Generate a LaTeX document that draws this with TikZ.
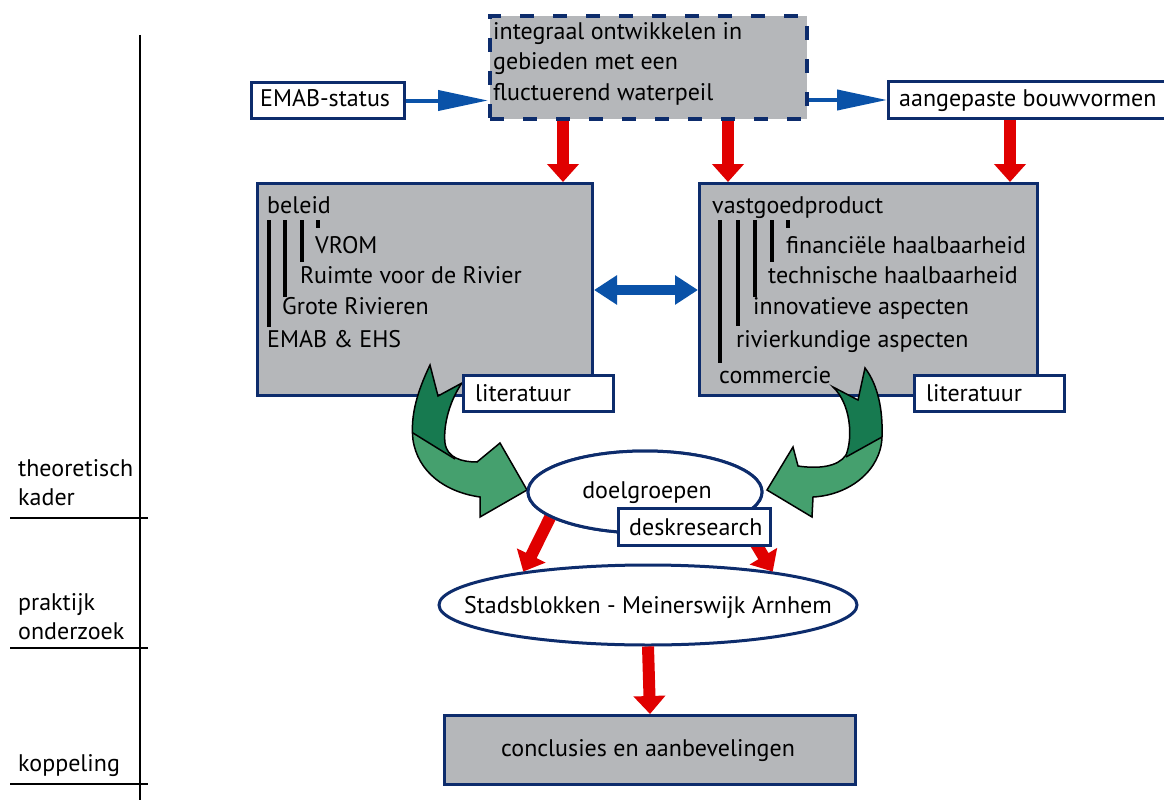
\documentclass[tikz,border=0pt]{standalone}
\usepackage{fontspec}
\setmainfont{PT Sans}
\usetikzlibrary{arrows.meta,shapes.geometric}
\definecolor{navy}{HTML}{0D2C6C}
\definecolor{boxgray}{HTML}{B5B7BA}
\definecolor{arrblue}{HTML}{0A52A8}
\definecolor{arrred}{HTML}{E00000}
\definecolor{gdark}{HTML}{177A50}
\definecolor{glight}{HTML}{45A06E}
\newcommand{\mfs}{\fontsize{24}{30}\selectfont}
\newcommand{\greenleftpath}{(430,365) -- (438,396) -- (462,383) .. controls (450,400) and (443,425) .. (445,443) .. controls (447,458) and (462,462) .. (477,462) -- (500,443) -- (527,490) -- (480,517) -- (480,497) .. controls (445,492) and (418,472) .. (413,440) .. controls (410,415) and (418,390) .. (430,365) -- cycle}
\newcommand{\greenrightpath}{(833,387) -- (858,400) -- (865,368) .. controls (878,385) and (883,410) .. (882,437) .. controls (881,470) and (850,495) .. (813,497) -- (812,517) -- (767,490) -- (793,447) -- (798,466) .. controls (818,469) and (838,467) .. (846,455) .. controls (853,438) and (851,404) .. (833,387) -- cycle}
\begin{document}
\begin{tikzpicture}[x=1pt,y=-1pt,
  graybox/.style={draw=navy, line width=3pt, fill=boxgray, inner sep=0pt, anchor=north west},
  whitebox/.style={draw=navy, line width=3pt, fill=white, inner sep=0pt, anchor=north west},
  ellbox/.style={ellipse, draw=navy, line width=3pt, fill=white, inner sep=0pt},
  txt/.style={font=\mfs, inner sep=0pt, anchor=base west, text=black},
  ctxt/.style={font=\mfs, inner sep=0pt, anchor=base, text=black},
  barline/.style={line width=4pt, black},
  redarr/.style={arrred, line width=12pt, -{Triangle[length=18pt,width=31pt]}},
  bluearr/.style={arrblue, line width=4pt, -{Triangle[length=50pt,width=20pt]}},
  dblarr/.style={arrblue, line width=10pt, {Triangle[length=23pt,width=28pt]}-{Triangle[length=23pt,width=28pt]}},
  rulel/.style={black, line width=2pt},
  greenout/.style={draw=black, line width=1.5pt, line join=miter}
]
\clip (0,0) rectangle (1164,800);
\fill[white] (0,0) rectangle (1164,800);

% left rules and phase labels
\draw[rulel] (140,35) -- (140,800);
\draw[rulel] (10,518) -- (148,518);
\draw[rulel] (10,648) -- (148,648);
\draw[rulel] (10,784) -- (148,784);
\node[txt] (l1) at (18,476) {theoretisch};
\node[txt] (l2) at (18,505) {kader};
\node[txt] (l3) at (18,610) {praktijk};
\node[txt] (l4) at (18,639) {onderzoek};
\node[txt] (l5) at (18,771) {koppeling};

% top row
\node[graybox, line width=4pt, dash pattern=on 14pt off 19pt, minimum width=317pt, minimum height=103pt] (top) at (488,14) {};
\node[txt] (t1) at (493,40) {integraal ontwikkelen in};
\node[txt] (t2) at (493,70) {gebieden met een};
\node[txt] (t3) at (493,100) {fluctuerend waterpeil};

\node[whitebox, minimum width=153pt, minimum height=36pt] (emab) at (250,81) {};
\node[txt] (emabt) at (260,106) {EMAB-status};
\node[whitebox, minimum width=300pt, minimum height=37pt] (aang) at (887,80) {};
\node[txt] (aangt) at (899,106) {aangepaste bouwvormen};

\draw[bluearr] (emab.east) -- (top.west |- emab.east);
\draw[bluearr] (top.east |- aang.west) -- (aang.west);

% middle boxes
\node[graybox, minimum width=335pt, minimum height=212pt] (lbox) at (256,182) {};
\node[graybox, minimum width=338pt, minimum height=212pt] (rbox) at (698,182) {};

\coordinate (r1) at (563,0);
\coordinate (r2) at (728,0);
\coordinate (r3) at (1010,0);
\draw[redarr] (r1 |- top.south) -- (r1 |- lbox.north);
\draw[redarr] (r2 |- top.south) -- (r2 |- rbox.north);
\draw[redarr] (r3 |- aang.south) -- (r3 |- rbox.north);

% beleid text
\node[txt] (b0) at (267,213) {beleid};
\node[txt] (b1) at (315,253) {VROM};
\node[txt] (b2) at (300,283) {Ruimte voor de Rivier};
\node[txt] (b3) at (282,314) {Grote Rivieren};
\node[txt] (b4) at (267,347) {EMAB \& EHS};
\draw[barline] (269,220) -- (269,327);
\draw[barline] (285,220) -- (285,297);
\draw[barline] (302,220) -- (302,262);
\draw[barline] (318,220) -- (318,228);

% vastgoed text
\node[txt] (v0) at (712,213) {vastgoedproduct};
\node[txt] (v1) at (786,253) {financiële haalbaarheid};
\node[txt] (v2) at (768,283) {technische haalbaarheid};
\node[txt] (v3) at (753,314) {innovatieve aspecten};
\node[txt] (v4) at (736,347) {rivierkundige aspecten};
\node[txt] (v5) at (719,383) {commercie};
\draw[barline] (720,220) -- (720,363);
\draw[barline] (738,220) -- (738,326);
\draw[barline] (755,220) -- (755,297);
\draw[barline] (772,220) -- (772,262);
\draw[barline] (788,220) -- (788,228);

\coordinate (dy) at (0,290);
\draw[dblarr] (lbox.east |- dy) -- (rbox.west |- dy);

% green arrows
\fill[glight] \greenleftpath;
\begin{scope}
  \clip \greenleftpath;
  \fill[gdark] (380,300) -- (380,412) -- (413,433) -- (455,459) -- (470,420) -- (480,300) -- cycle;
  \draw[black, line width=1.5pt] (400,425) -- (455,459);
\end{scope}
\draw[greenout] \greenleftpath;

\fill[glight] \greenrightpath;
\begin{scope}
  \clip \greenrightpath;
  \fill[gdark] (950,300) -- (950,400) -- (882,437) -- (846,457) -- (815,425) -- (810,300) -- cycle;
  \draw[black, line width=1.5pt] (900,427) -- (846,457);
\end{scope}
\draw[greenout] \greenrightpath;

% literatuur boxes
\node[whitebox, minimum width=150pt, minimum height=36pt] (lit1) at (462,374) {};
\node[txt] (lit1t) at (475,401) {literatuur};
\node[whitebox, minimum width=150pt, minimum height=36pt] (lit2) at (913,374) {};
\node[txt] (lit2t) at (926,401) {literatuur};

% lower part
\node[ellbox, minimum width=234pt, minimum height=82pt] (dg) at (645,492) {};
\node[ellbox, minimum width=418pt, minimum height=80pt] (sb) at (648,605) {};
\draw[redarr] (dg.195) -- (sb.165);
\draw[redarr] (dg.345) -- (sb.15);
\node[ellbox, minimum width=234pt, minimum height=82pt] (dg2) at (645,492) {};
\node[ctxt] (dgt) at (647,498) {doelgroepen};
\node[whitebox, minimum width=152pt, minimum height=37pt] (desk) at (617,507) {};
\node[txt] (deskt) at (629,535) {deskresearch};
\node[ctxt] (sbt) at (648,613) {Stadsblokken - Meinerswijk Arnhem};

\node[graybox, minimum width=411pt, minimum height=69pt] (concl) at (443,714) {};
\node[ctxt] (conclt) at (648,756) {conclusies en aanbevelingen};
\draw[redarr] (sb.south) -- (concl.north);
\end{tikzpicture}
\end{document}
